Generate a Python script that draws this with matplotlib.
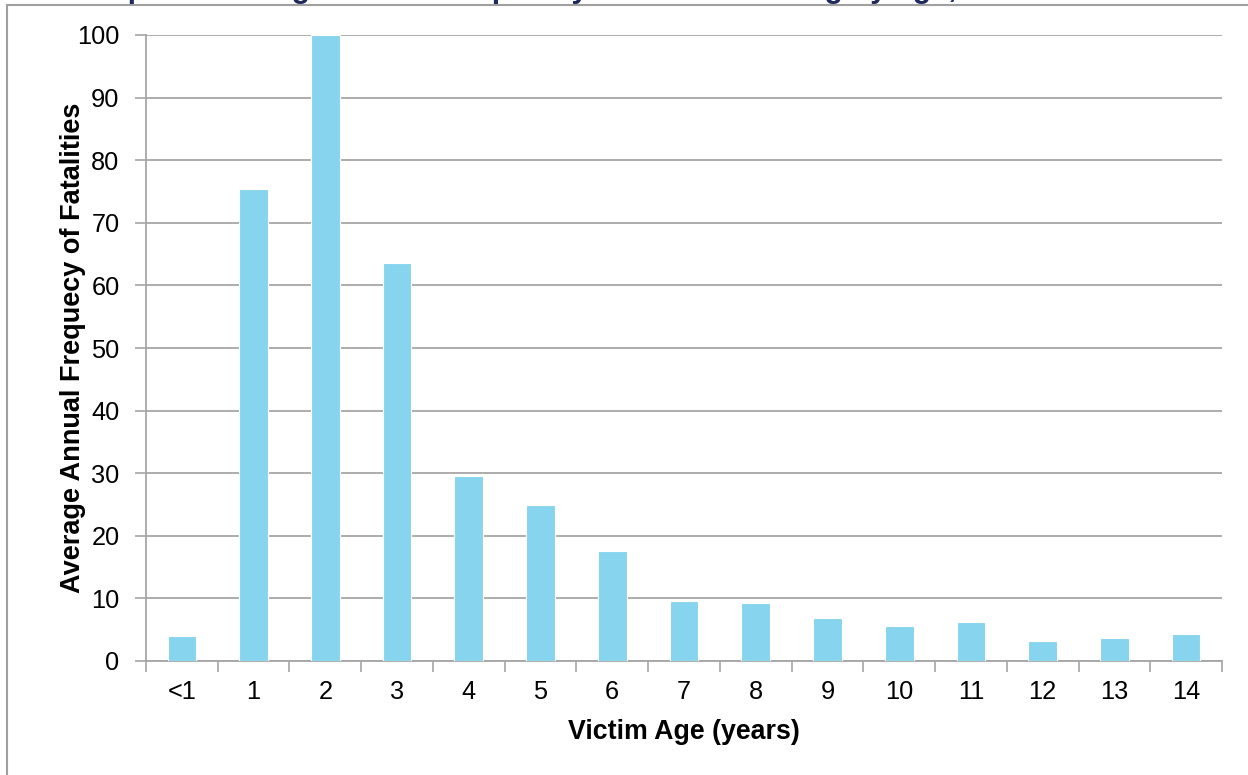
import matplotlib.pyplot as plt
from matplotlib.patches import Rectangle

plt.rcParams['font.family'] = ['Liberation Sans', 'DejaVu Sans']

ages = ["<1", "1", "2", "3", "4", "5", "6", "7", "8", "9", "10", "11", "12", "13", "14"]
fatalities = [4.0, 75.4, 100.0, 63.6, 29.6, 24.9, 17.6, 9.6, 9.3, 6.9, 5.6, 6.2, 3.2, 3.6, 4.3]
y_ticks = [0, 10, 20, 30, 40, 50, 60, 70, 80, 90, 100]

fig = plt.figure(figsize=(12.48, 7.75), dpi=100)
ax = fig.add_axes([146 / 1248, 1 - 661 / 775, (1222 - 146) / 1248, (661 - 35) / 775])

grid_col = "#a6a6a6"
x = range(len(ages))
ax.bar(x, fatalities, width=0.4, color="#87d4ee", edgecolor="white", linewidth=0.8, zorder=3)

ax.set_xlim(-0.5, len(ages) - 0.5)
ax.set_ylim(0, 100)
ax.set_yticks(y_ticks)
ax.yaxis.grid(True, color=grid_col, linewidth=1.3, zorder=0)
ax.tick_params(axis="y", length=8, width=1.2, color=grid_col, labelsize=18.3, pad=11)

# category ticks sit between the bars
ax.set_xticks([i - 0.5 for i in range(len(ages) + 1)], minor=False)
ax.set_xticklabels([])
ax.set_xticks(list(x), minor=True)
ax.set_xticklabels(ages, minor=True)
ax.tick_params(axis="x", which="major", length=8, width=1.2, color=grid_col)
ax.tick_params(axis="x", which="minor", length=0, labelsize=18.3, pad=14)

for side in ["top", "right"]:
    ax.spines[side].set_visible(False)
for side in ["left", "bottom"]:
    ax.spines[side].set_color(grid_col)
    ax.spines[side].set_linewidth(1.3)

ax.set_xlabel("Victim Age (years)", fontsize=19.3, fontweight="bold", va="center")
ax.xaxis.set_label_coords(0.5, -0.1134)
ax.set_ylabel("Average Annual Frequecy of Fatalities", fontsize=19.5, fontweight="bold", va="center")
ax.yaxis.set_label_coords(-0.0678, 0.5)

# chart title sits above the frame
fig.text(0.06, 1.0 + 3 / 775, "Graph 4: Average annual frequency of fatal drowning by age, 2001\u20132012",
         fontsize=22, fontweight="bold", color="#1f2a5c", va="baseline", ha="left")

fig.patches.append(Rectangle((7 / 1248, -0.05), 1.1, 1 - 5 / 775 + 0.05, transform=fig.transFigure,
                             fill=False, edgecolor="#a0a0a0", linewidth=1.5))

fig.savefig("out.png", dpi=100)
